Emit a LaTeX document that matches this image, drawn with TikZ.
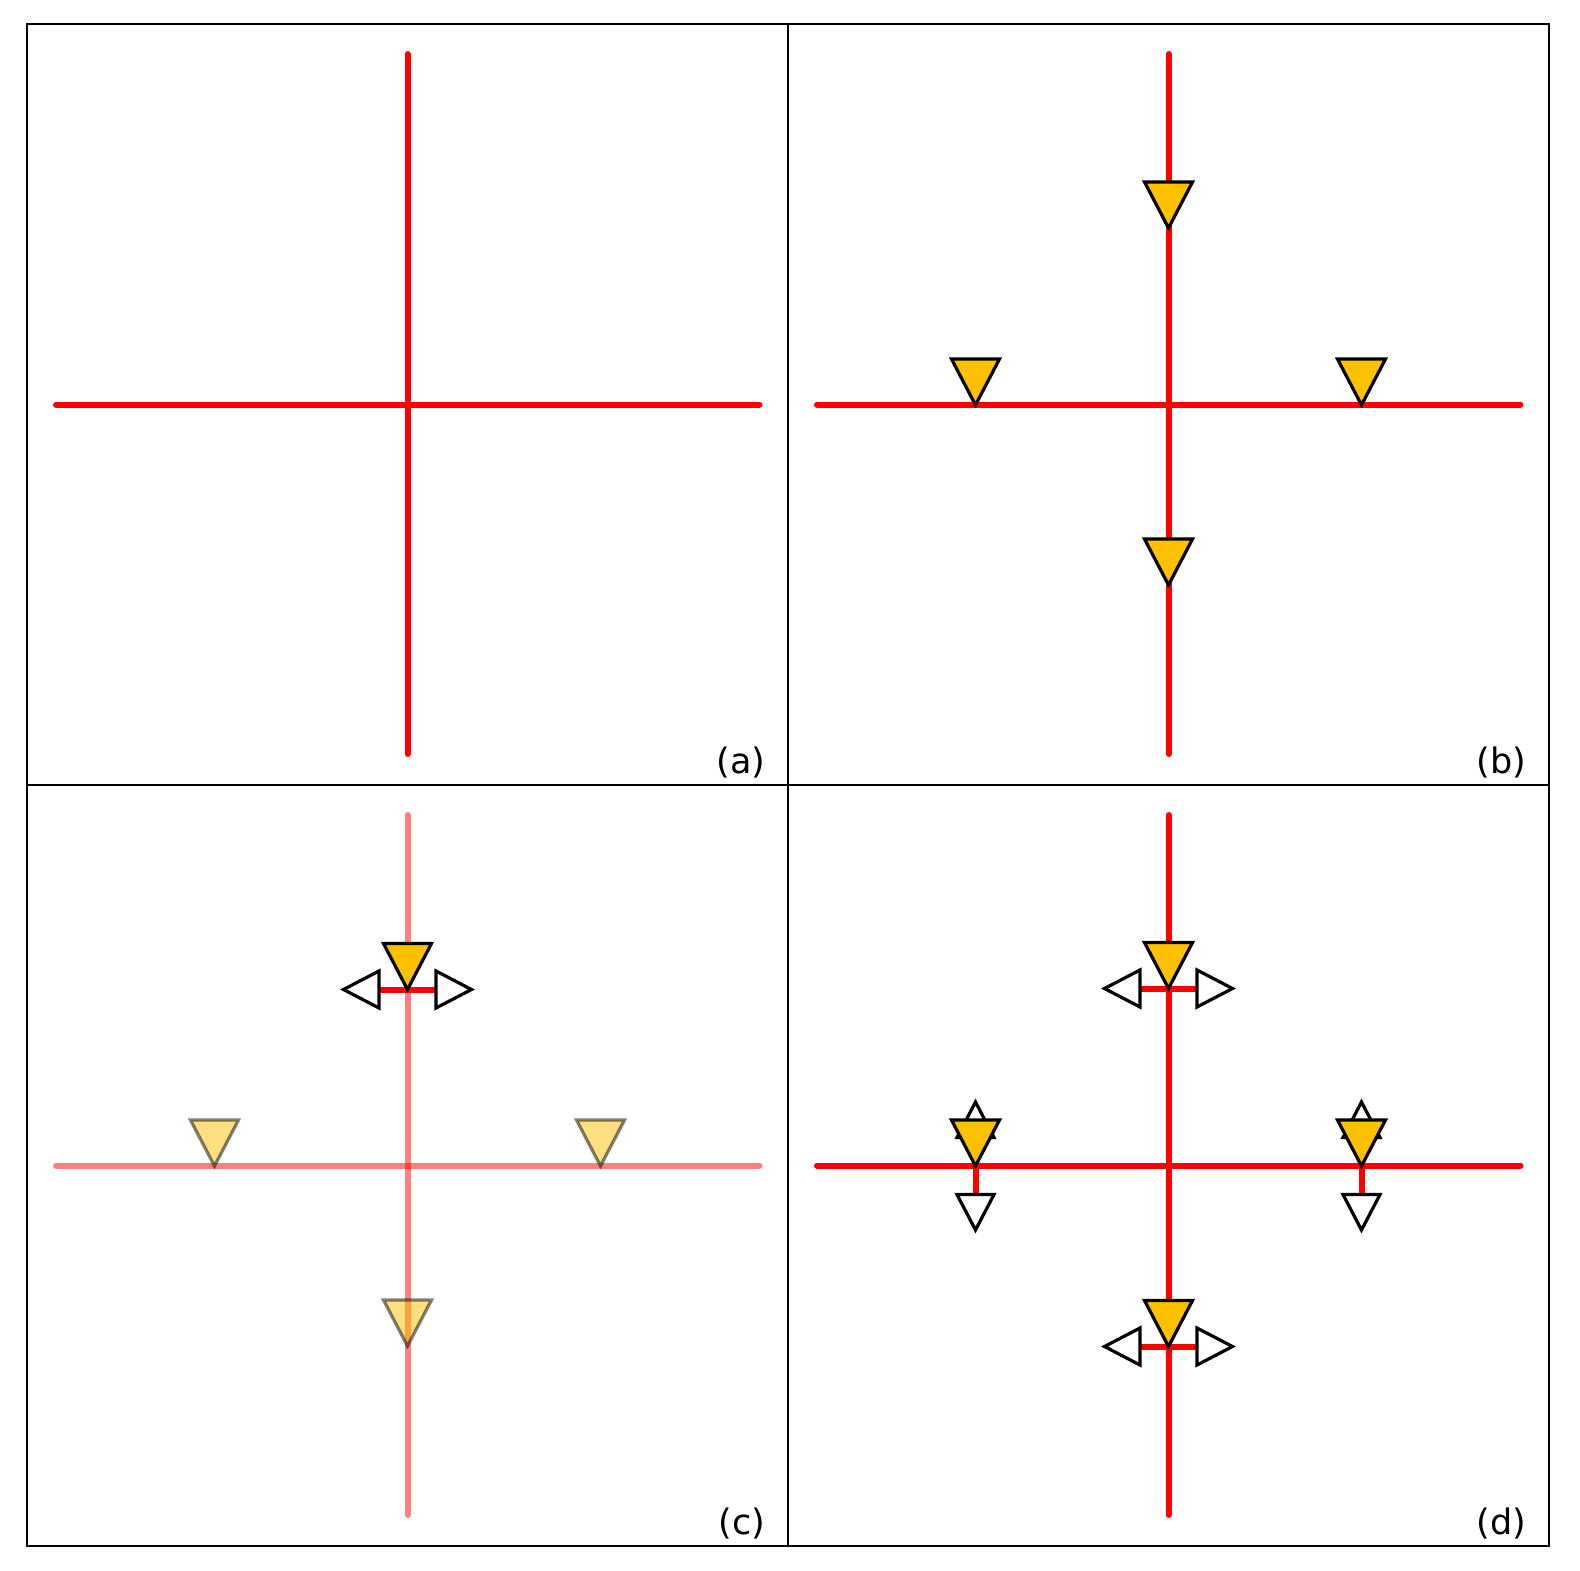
\documentclass[tikz,border=0pt]{standalone}
\usepackage{fontspec}
\setmainfont{Liberation Sans}
\newfontfamily\labfont{DejaVu Sans}
\definecolor{gold}{HTML}{FFC000}
\begin{document}
\begin{tikzpicture}[x=1pt,y=-1pt,
  redln/.style={draw=red,line width=6pt,line cap=round},
  stubln/.style={draw=red,line width=6pt},
  framel/.style={draw=black,line width=2.3pt},
  marker/.style={draw=black,fill=gold,line width=3.2pt,line join=miter},
  arrowtri/.style={draw=black,fill=white,line width=3.2pt,line join=miter},
  lab/.style={anchor=base east,inner sep=0pt,font=\labfont\fontsize{35}{40}\selectfont}]
\useasboundingbox (0,0) rectangle (1580,1571);

% helpers
\newcommand\mycross[2]{%
  \coordinate (#1l) at (-351.5,0); \coordinate (#1r) at (352,0);
  \coordinate (#1t) at (0,-350.5); \coordinate (#1b) at (0,349.5);
  \draw[redln,opacity=#2] (#1l) -- (#1r);
  \draw[redln,opacity=#2] (#1t) -- (#1b);}
\newcommand\goldtri[2]{\draw[marker,opacity=#2] (#1) ++(-24,-46) -- ++(48,0) -- (#1) -- cycle;}
\newcommand\hstub[1]{\draw[stubln] (#1) ++(-28.5,0) -- ++(57,0);}
\newcommand\vstub[1]{\draw[stubln] (#1) ++(0,-28.5) -- ++(0,57);}
\newcommand\lrarrows[1]{%
  \draw[arrowtri] (#1) ++(-28.5,-18.5) -- ++(0,37) -- ++(-35.5,-18.5) -- cycle;
  \draw[arrowtri] (#1) ++(28.5,-18.5) -- ++(0,37) -- ++(35.5,-18.5) -- cycle;}
\newcommand\udarrows[1]{%
  \draw[arrowtri] (#1) ++(-18.5,-28.5) -- ++(37,0) -- ++(-18.5,-35.5) -- cycle;
  \draw[arrowtri] (#1) ++(-18.5,28.5) -- ++(37,0) -- ++(-18.5,35.5) -- cycle;}

% panel (a)
\begin{scope}[shift={(407.5,404.5)}]
  \mycross{a}{1}
\end{scope}

% panel (b)
\begin{scope}[shift={(1168.5,404.5)}]
  \mycross{b}{1}
  \coordinate (bmt) at (0,-176.5);
  \coordinate (bmb) at (0,180.5);
  \coordinate (bml) at (-193,0.5);
  \coordinate (bmr) at (193,0.5);
  \goldtri{bmt}{1}\goldtri{bmb}{1}\goldtri{bml}{1}\goldtri{bmr}{1}
\end{scope}

% panel (c)
\begin{scope}[shift={(407.5,1165.5)}]
  \mycross{c}{0.5}
  \coordinate (cmt) at (0,-176);
  \coordinate (cmb) at (0,180.5);
  \coordinate (cml) at (-193,0.5);
  \coordinate (cmr) at (193,0.5);
  \goldtri{cmb}{0.5}\goldtri{cml}{0.5}\goldtri{cmr}{0.5}
  \hstub{cmt}
  \lrarrows{cmt}
  \goldtri{cmt}{1}
\end{scope}

% panel (d)
\begin{scope}[shift={(1168.5,1165.5)}]
  \mycross{d}{1}
  \coordinate (dmt) at (0,-177);
  \coordinate (dmb) at (0,181);
  \coordinate (dml) at (-193,0.5);
  \coordinate (dmr) at (193,0.5);
  \hstub{dmt}\hstub{dmb}\vstub{dml}\vstub{dmr}
  \lrarrows{dmt}\lrarrows{dmb}\udarrows{dml}\udarrows{dmr}
  \goldtri{dmt}{1}\goldtri{dmb}{1}\goldtri{dml}{1}\goldtri{dmr}{1}
\end{scope}

% frame
\coordinate (f1) at (27,24); \coordinate (f2) at (1549,1546);
\draw[framel] (f1) rectangle (f2);
\draw[framel] (788,24) -- (788,1546);
\draw[framel] (27,785) -- (1549,785);

% labels
\node[lab] (la) at (765.5,773.5) {(a)};
\node[lab] (lb) at (1526.5,773.5) {(b)};
\node[lab] (lc) at (765.5,1534.5) {(c)};
\node[lab] (ld) at (1526.5,1534.5) {(d)};
\end{tikzpicture}
\end{document}
